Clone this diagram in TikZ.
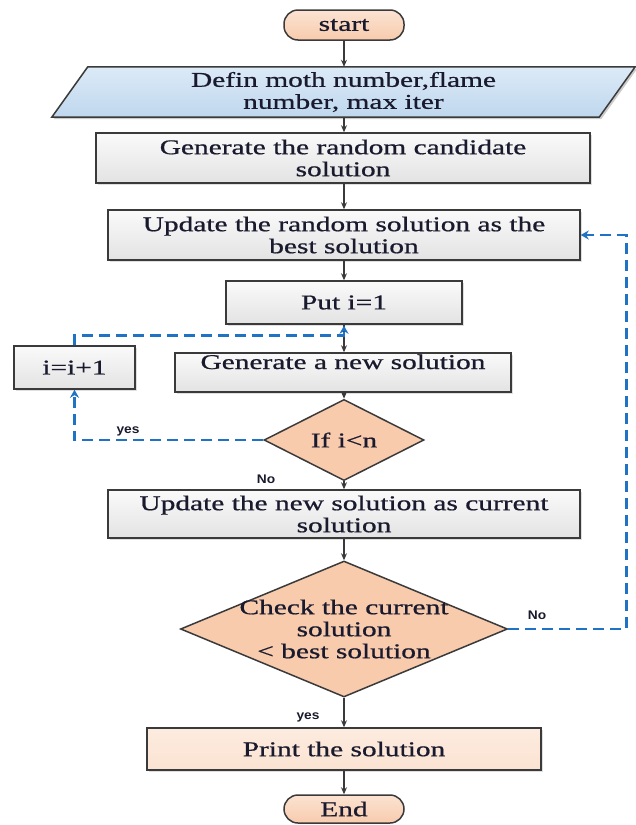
\documentclass[tikz,border=0pt]{standalone}
\usepackage{fontspec}
\setmainfont{Liberation Serif}[FakeStretch=1.4,FakeBold=0.8]
\newfontfamily\lblfont{Liberation Sans}[FakeStretch=1.1]
\usetikzlibrary{shapes.geometric,calc,arrows.meta,shadows}
\definecolor{edgec}{HTML}{3A3A3A}
\definecolor{txt}{HTML}{1A1A2E}
\definecolor{dblue}{HTML}{1F72C4}
\definecolor{peach}{HTML}{F8CBAD}
\definecolor{peachl}{HTML}{FBE3D2}
\definecolor{lblue}{HTML}{DCEAF7}
\definecolor{lblue2}{HTML}{BFD7EE}
\begin{document}
\begin{tikzpicture}[x=1pt,y=-1pt,
  every node/.style={font=\fontsize{21}{22}\selectfont, text=txt, align=center, inner sep=0pt},
  base/.style={draw=edgec, line width=1.5pt},
  shad/.style={drop shadow={shadow xshift=2pt, shadow yshift=-2pt, opacity=.25}},
  graybox/.style={base, shad, rectangle, top color=gray!4, bottom color=gray!22},
  term/.style={base, rectangle, rounded corners=14pt, top color=peachl, bottom color=peach, minimum width=120pt},
  dec/.style={base, shape=diamond, fill=peach, inner sep=0pt},
  arr/.style={draw=edgec, line width=1.2pt, -{Stealth[length=7pt,width=6pt]}},
  dashb/.style={draw=dblue, line width=2.8pt, dash pattern=on 11pt off 6pt, -{Stealth[length=8pt,width=9pt]}},
  lbl/.style={font=\lblfont\bfseries\fontsize{12.5}{13}\selectfont, text=txt}
]
\useasboundingbox (0,0) rectangle (636,825);

\node[term, minimum height=30pt] (start) at (344,25) {start};

\node[minimum width=583pt, minimum height=50pt] (def) at (343.5,92) {};
\fill[black, opacity=.2] ($(def.south west)+(2,2)$) -- ($(def.north west)+(38,2)$) -- ($(def.north east)+(2,2)$) -- ($(def.south east)+(-34,2)$) -- cycle;
\draw[base, top color=lblue, bottom color=lblue2] (def.south west) -- ($(def.north west)+(36,0)$) -- (def.north east) -- ($(def.south east)+(-36,0)$) -- cycle;
\node (deftext) at (def.center) {Defin moth number,flame\\number, max iter};

\node[graybox, minimum width=494pt, minimum height=50pt] (gen) at (343,158) {Generate the random candidate\\solution};
\node[graybox, minimum width=472pt, minimum height=50pt] (upd) at (344,235) {Update the random solution as the\\best solution};
\node[graybox, minimum width=236pt, minimum height=43pt] (put) at (344,302.5) {Put i=1};
\node[graybox, minimum width=121pt, minimum height=43pt] (inc) at (74.5,367.5) {i=i+1};
\node[graybox, minimum width=336pt, minimum height=39pt, text height=12pt, text depth=19pt] (gnew) at (343,372.5) {Generate a new solution};
\node[dec, minimum width=160pt, minimum height=57pt] (ifd) at (344,440) {If i<n};
\node[graybox, minimum width=472pt, minimum height=48pt] (updn) at (344,514) {Update the new solution as current\\solution};
\node[dec, minimum width=327pt, minimum height=136pt,
  label={[align=center]center:Check the current\\solution\\< best solution}] (chk) at (344,629) {};
\node[base, shad, rectangle, top color=peachl!70!white, bottom color=peachl, minimum width=394pt, minimum height=42pt] (print) at (344,749) {Print the solution};
\node[term, minimum height=28pt] (end) at (344,809) {End};

\draw[arr] (start) -- (def.north -| start.south);
\draw[arr] (def.south -| start.south) -- (gen.north -| start.south);
\draw[arr] (gen.south -| start.south) -- (upd.north -| start.south);
\draw[arr] (upd) -- (put);
\draw[arr] (put.south) -- (gnew.north -| put.south);
\draw[arr] (gnew.south -| ifd.north) -- (ifd.north);
\draw[arr] (ifd) -- (updn);
\draw[arr] (updn) -- (chk);
\draw[arr] (chk) -- (print);
\draw[arr] (print) -- (end);

\draw[dashb] (ifd.west) -| (inc.south);
\draw[dashb] (inc.north) |- ($(put.south)+(0,11)$) -- ($(put.south)+(0,1)$);
\draw[dashb] (chk.east) -- ++(118,0) |- (upd.east);

\node[lbl] (lyes1) at (128,431) {yes};
\node[lbl] (lno1) at (266,479) {No};
\node[lbl] (lno2) at (537,615) {No};
\node[lbl] (lyes2) at (308,717) {yes};
\end{tikzpicture}
\end{document}
